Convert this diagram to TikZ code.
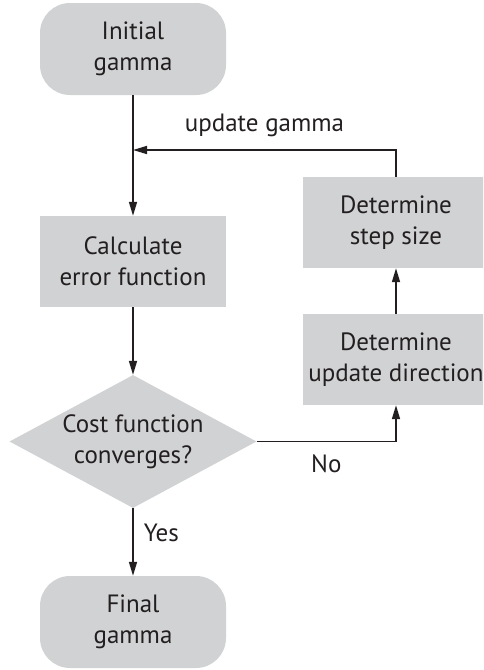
\documentclass[tikz,border=0pt]{standalone}
\usepackage{fontspec}
\setmainfont{PT Sans}
\usetikzlibrary{shapes.geometric,arrows.meta}
\definecolor{boxgray}{RGB}{209,210,211}
\definecolor{ink}{RGB}{35,31,32}
\begin{document}
\begin{tikzpicture}[x=1pt,y=-1pt,
  base/.style={fill=boxgray, text=ink, align=center, font=\fontsize{25}{31}\selectfont, inner sep=0pt},
  term/.style={base, rounded corners=30pt, minimum width=186pt, minimum height=92pt},
  proc/.style={base, minimum width=186pt, minimum height=91pt},
  dec/.style={base, diamond, aspect=1.857, minimum width=247pt, minimum height=133pt},
  lbl/.style={text=ink, font=\fontsize{25}{31}\selectfont, inner sep=0pt},
  arr/.style={draw=ink, line width=1.6pt, -{Triangle[length=14pt,width=8pt]}}]
\clip (0,0) rectangle (483,670);
\node[term] (init) at (133,49) {Initial\\gamma};
\node[proc] (calc) at (133,261.5) {Calculate\\error function};
\node[dec] (dec) at (133,441.5) {Cost function\\converges?};
\node[term] (final) at (133,622) {Final\\gamma};
\node[proc] (step) at (396,222.5) {Determine\\step size};
\node[proc] (dir) at (396,359.5) {Determine\\update direction};
\coordinate (merge) at (133,150);
\draw[arr] (init) -- (calc);
\draw[arr] (calc) -- (dec);
\draw[arr] (dec) -- node[lbl, pos=0.36, right=10pt] {Yes} (final);
\draw[arr] (dec.east) -| node[lbl, pos=0.25, below=12pt] {No} (dir);
\draw[arr] (dir) -- (step);
\draw[arr] (step.north) |- node[lbl, pos=0.75, above=12pt] {update gamma} (merge);
\end{tikzpicture}
\end{document}
